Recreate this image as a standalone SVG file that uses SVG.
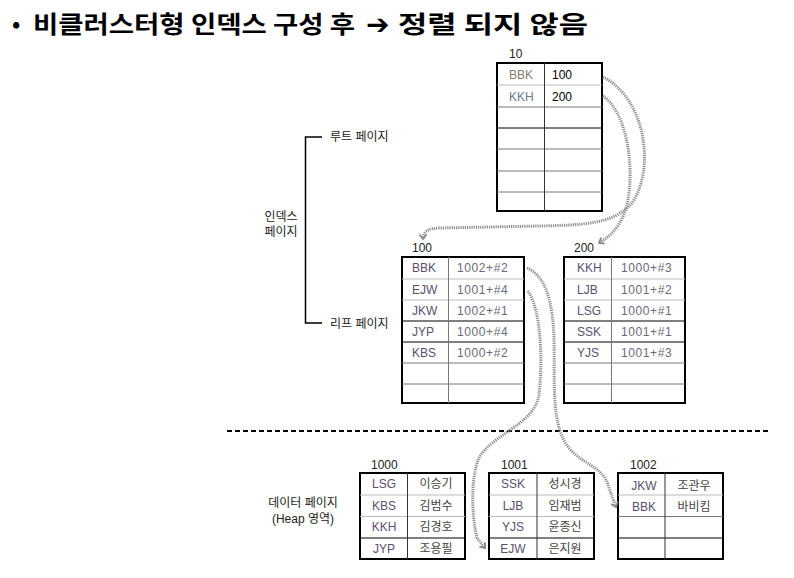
<svg xmlns="http://www.w3.org/2000/svg" width="794" height="578" viewBox="0 0 794 578">
<defs>
<style>
.t{font-family:"Liberation Sans","Noto Sans CJK KR",sans-serif;font-size:12px;fill:#222}
.k{font-family:"Liberation Sans","Noto Sans CJK KR",sans-serif;font-size:12px;fill:#5a5070}
.v{font-family:"Liberation Sans","Noto Sans CJK KR",sans-serif;font-size:12px;fill:#6a6a78;letter-spacing:0.6px}
.kr{font-family:"Noto Sans CJK KR",sans-serif;font-size:12px;fill:#444}
.box{fill:#fff;stroke:#000;stroke-width:2}
.lg{stroke:#bbb;stroke-width:1}
.lb{stroke:#000;stroke-width:1}
.col{stroke:#777;stroke-width:1}
.conn{fill:none;stroke:#8c8c8c;stroke-width:3;stroke-dasharray:1.2 1}
</style>
<marker id="ah" markerWidth="9" markerHeight="9" refX="5.5" refY="4.5" orient="auto" markerUnits="userSpaceOnUse">
<path d="M1,1 L5.5,4.5 L1,8" fill="none" stroke="#888" stroke-width="1.8"/>
</marker>
</defs>
<rect width="794" height="578" fill="#fff"/>

<g id="title">
<text x="12" y="32" style="font-family:'Noto Sans CJK KR','Liberation Sans',sans-serif;font-size:22px;font-weight:bold;fill:#000">•</text>
<text x="33" y="33" textLength="322" lengthAdjust="spacingAndGlyphs" style="font-family:'Noto Sans CJK KR','Liberation Sans',sans-serif;font-size:24px;font-weight:bold;fill:#000">비클러스터형 인덱스 구성 후</text>
<text x="366" y="34" style="font-family:'DejaVu Sans',sans-serif;font-size:28px;font-weight:bold;fill:#000">➔</text>
<text x="398" y="33" textLength="190" lengthAdjust="spacingAndGlyphs" style="font-family:'Noto Sans CJK KR','Liberation Sans',sans-serif;font-size:24px;font-weight:bold;fill:#000">정렬 되지 않음</text>
</g>

<g id="bracket">
<path d="M322,137 H305.5 V323 H322" fill="none" stroke="#000" stroke-width="1.5"/>
<text class="t" x="330" y="141">루트 페이지</text>
<text class="t" x="330" y="328">리프 페이지</text>
<text class="t" x="281" y="221" text-anchor="middle">인덱스</text>
<text class="t" x="281" y="236" text-anchor="middle">페이지</text>
</g>

<g id="root10">
<text class="t" x="509" y="58">10</text>
<rect class="box" x="497" y="63" width="105" height="148"/>
<line class="lg" x1="497" y1="85" x2="602" y2="85"/>
<line class="col" x1="497" y1="107" x2="602" y2="107"/>
<line class="lb" x1="497" y1="128" x2="602" y2="128"/>
<line class="col" x1="497" y1="149" x2="602" y2="149"/>
<line class="col" x1="497" y1="171" x2="602" y2="171"/>
<line class="col" x1="497" y1="192" x2="602" y2="192"/>
<line stroke="#333" x1="544.5" y1="63" x2="544.5" y2="211"/>
<text x="509" y="79" class="t" style="fill:#8a7a6a">BBK</text>
<text x="509" y="101" class="t" style="fill:#6a7a8a">KKH</text>
<text x="552" y="79" class="t" style="fill:#000">100</text>
<text x="552" y="101" class="t" style="fill:#000">200</text>
</g>

<g id="leaf100">
<text class="t" x="412" y="252">100</text>
<rect class="box" x="402" y="257" width="122" height="146"/>
<line class="lg" x1="402" y1="279" x2="524" y2="279"/>
<line class="lg" x1="402" y1="300" x2="524" y2="300"/>
<line class="lb" x1="402" y1="321" x2="524" y2="321"/>
<line class="lb" x1="402" y1="342" x2="524" y2="342"/>
<line class="col" x1="402" y1="363" x2="524" y2="363"/>
<line class="col" x1="402" y1="384" x2="524" y2="384"/>
<line class="col" x1="448.5" y1="257" x2="448.5" y2="403"/>
<text class="k" x="412" y="272">BBK</text><text class="v" x="457" y="272">1002+#2</text>
<text class="k" x="412" y="294">EJW</text><text class="v" x="457" y="294">1001+#4</text>
<text class="k" x="412" y="315">JKW</text><text class="v" x="457" y="315">1002+#1</text>
<text class="k" x="412" y="336">JYP</text><text class="v" x="457" y="336">1000+#4</text>
<text class="k" x="412" y="357">KBS</text><text class="v" x="457" y="357">1000+#2</text>
</g>

<g id="leaf200">
<text class="t" x="574" y="252">200</text>
<rect class="box" x="564" y="257" width="121" height="146"/>
<line class="lg" x1="564" y1="279" x2="685" y2="279"/>
<line class="lg" x1="564" y1="300" x2="685" y2="300"/>
<line class="lb" x1="564" y1="321" x2="685" y2="321"/>
<line class="lb" x1="564" y1="342" x2="685" y2="342"/>
<line class="col" x1="564" y1="363" x2="685" y2="363"/>
<line class="col" x1="564" y1="384" x2="685" y2="384"/>
<line class="col" x1="611.5" y1="257" x2="611.5" y2="403"/>
<text class="k" x="577" y="272">KKH</text><text class="v" x="621" y="272">1000+#3</text>
<text class="k" x="577" y="294">LJB</text><text class="v" x="621" y="294">1001+#2</text>
<text class="k" x="577" y="315">LSG</text><text class="v" x="621" y="315">1000+#1</text>
<text class="k" x="577" y="336">SSK</text><text class="v" x="621" y="336">1001+#1</text>
<text class="k" x="577" y="357">YJS</text><text class="v" x="621" y="357">1001+#3</text>
</g>

<line x1="227" y1="431" x2="770" y2="431" stroke="#000" stroke-width="2" stroke-dasharray="5 3"/>

<g id="heaplabel">
<text class="t" x="303" y="507" text-anchor="middle">데이터 페이지</text>
<text class="t" x="303" y="523" text-anchor="middle">(Heap 영역)</text>
</g>

<g id="data1000">
<text class="t" x="371" y="469">1000</text>
<rect class="box" x="360" y="473" width="105" height="86"/>
<line class="lg" x1="360" y1="495" x2="465" y2="495"/>
<line class="lg" x1="360" y1="516.5" x2="465" y2="516.5"/>
<line class="lb" x1="360" y1="538" x2="465" y2="538"/>
<line stroke="#333" x1="407.5" y1="473" x2="407.5" y2="559"/>
<text class="k" x="384" y="488" text-anchor="middle">LSG</text><text class="kr" x="436" y="488" text-anchor="middle">이승기</text>
<text class="k" x="384" y="510" text-anchor="middle">KBS</text><text class="kr" x="436" y="510" text-anchor="middle">김범수</text>
<text class="k" x="384" y="531" text-anchor="middle">KKH</text><text class="kr" x="436" y="531" text-anchor="middle">김경호</text>
<text class="k" x="384" y="553" text-anchor="middle">JYP</text><text class="kr" x="436" y="553" text-anchor="middle">조용필</text>
</g>

<g id="data1001">
<text class="t" x="501" y="469">1001</text>
<rect class="box" x="489" y="473" width="105" height="86"/>
<line class="lg" x1="489" y1="495" x2="594" y2="495"/>
<line class="lg" x1="489" y1="516.5" x2="594" y2="516.5"/>
<line class="lb" x1="489" y1="538" x2="594" y2="538"/>
<line stroke="#333" x1="537" y1="473" x2="537" y2="559"/>
<text class="k" x="513" y="488" text-anchor="middle">SSK</text><text class="kr" x="565" y="488" text-anchor="middle">성시경</text>
<text class="k" x="513" y="510" text-anchor="middle">LJB</text><text class="kr" x="565" y="510" text-anchor="middle">임재범</text>
<text class="k" x="513" y="531" text-anchor="middle">YJS</text><text class="kr" x="565" y="531" text-anchor="middle">윤종신</text>
<text class="k" x="513" y="553" text-anchor="middle">EJW</text><text class="kr" x="565" y="553" text-anchor="middle">은지원</text>
</g>

<g id="data1002">
<text class="t" x="630" y="469">1002</text>
<rect class="box" x="618" y="473" width="105" height="86"/>
<line class="lg" x1="618" y1="495" x2="723" y2="495"/>
<line class="col" x1="618" y1="516.5" x2="723" y2="516.5"/>
<line class="lb" x1="618" y1="538" x2="723" y2="538"/>
<line stroke="#333" x1="665" y1="473" x2="665" y2="559"/>
<text class="k" x="644" y="490" text-anchor="middle">JKW</text><text class="kr" x="694" y="490" text-anchor="middle">조관우</text>
<text class="k" x="644" y="511" text-anchor="middle">BBK</text><text class="kr" x="694" y="511" text-anchor="middle">바비킴</text>
</g>

<g id="connectors">
<path class="conn" marker-end="url(#ah)" d="M603,77 C645,98 656,168 632,203 C614,224 585,225 540,226 L440,228 C428,228 423,232 423,239"/>
<path class="conn" marker-end="url(#ah)" d="M603,96 C626,112 633,160 629,193 C626,220 614,234 599,243"/>
<path class="conn" marker-end="url(#ah)" d="M527,268 C546,276 553,302 554,340 C555,380 551,420 566,444 C580,465 604,465 609,488 L616,507"/>
<path class="conn" marker-end="url(#ah)" d="M528,291 C541,310 543,360 539,395 C534,425 492,434 479,458 C470,478 472,518 477,538 L485,548"/>
</g>
</svg>
